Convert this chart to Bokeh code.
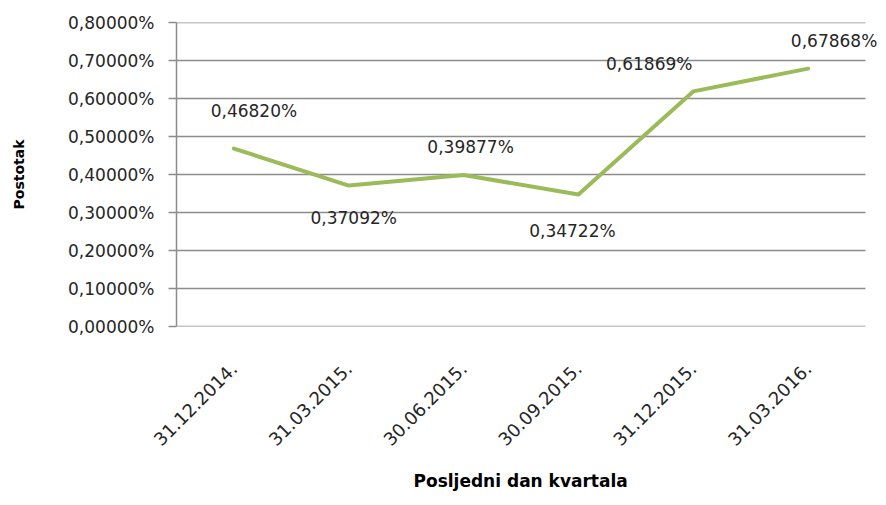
from bokeh.plotting import figure
from bokeh.models import Range1d, FixedTicker, CustomJSTickFormatter, ColumnDataSource, LabelSet, Title
from bokeh.core.properties import value
from bokeh.embed import file_html
from bokeh.resources import INLINE
import math

dates = ["31.12.2014.", "31.03.2015.", "30.06.2015.", "30.09.2015.", "31.12.2015.", "31.03.2016."]
rates = [0.46820, 0.37092, 0.39877, 0.34722, 0.61869, 0.67868]
labels = ["0,46820%", "0,37092%", "0,39877%", "0,34722%", "0,61869%", "0,67868%"]
y_ticks = [0.0, 0.1, 0.2, 0.3, 0.4, 0.5, 0.6, 0.7, 0.8]

# label placement (pixels), style only
label_dx = [20, 5, 7, -6, -44, 26]
label_dy = [38, -32, 28, -36, 27, 28]

FONT = "DejaVu Sans"
TXT = "#262626"
GRID = "#8c8c8c"

n = len(dates)
xs = list(range(n))
x_lo, x_hi = -0.5, n - 0.5          # category band edges (plot area)
extra = 21 / (689 / n)              # free room on the right for the last label

p = figure(width=886, height=505, x_range=Range1d(x_lo, x_hi + extra),
           y_range=Range1d(0, 0.8), output_backend="svg", toolbar_location=None,
           min_border_left=176, min_border_right=0, min_border_top=22, min_border_bottom=179)
p.outline_line_color = None
p.background_fill_color = "white"
p.border_fill_color = "white"
p.xgrid.grid_line_color = None
p.ygrid.grid_line_color = None

# horizontal gridlines and x axis line, limited to the category bands
p.segment(x0=[x_lo] * len(y_ticks), x1=[x_hi] * len(y_ticks), y0=y_ticks, y1=y_ticks,
          line_color=GRID, line_width=1.5)

p.yaxis.ticker = FixedTicker(ticks=y_ticks)
p.yaxis.formatter = CustomJSTickFormatter(code="return tick.toFixed(5).replace('.', ',') + '%';")
p.yaxis.minor_tick_line_color = None
p.yaxis.major_tick_in = 0
p.yaxis.major_tick_out = 8
p.yaxis.major_tick_line_color = GRID
p.yaxis.major_tick_line_width = 1.5
p.yaxis.axis_line_color = GRID
p.yaxis.axis_line_width = 1.5
p.yaxis.major_label_standoff = 14
p.yaxis.major_label_text_font = FONT
p.yaxis.major_label_text_font_size = "17px"
p.yaxis.major_label_text_color = TXT
p.yaxis.axis_label = "Postotak"
p.yaxis.axis_label_text_font = FONT
p.yaxis.axis_label_text_font_style = "bold"
p.yaxis.axis_label_text_font_size = "14px"
p.yaxis.axis_label_text_color = "#000000"
p.yaxis.axis_label_standoff = 38

p.xaxis.ticker = FixedTicker(ticks=xs)
p.xaxis.major_label_overrides = {i: d for i, d in zip(xs, dates)}
p.xaxis.major_tick_line_color = None
p.xaxis.minor_tick_line_color = None
p.xaxis.axis_line_color = None
p.xaxis.major_label_orientation = math.pi / 4
p.xaxis.major_label_standoff = 33
p.xaxis.major_label_text_font = FONT
p.xaxis.major_label_text_font_size = "18px"
p.xaxis.major_label_text_color = TXT

p.add_layout(Title(text="Posljedni dan kvartala", align="left", offset=237,
                   text_font=FONT, text_font_style="bold", text_font_size="17px",
                   text_color="#000000", standoff=28), "below")

src = ColumnDataSource(dict(x=xs, y=rates, lab=labels, dx=label_dx, dy=label_dy))
p.line("x", "y", source=src, line_color="#9BBB59", line_width=4, line_join="round", line_cap="round")
p.add_layout(LabelSet(x="x", y="y", text="lab", source=src, x_offset="dx", y_offset="dy",
                      text_font=value(FONT), text_font_size="17px", text_color=TXT,
                      text_align="center", text_baseline="middle"))

open("out.html", "w").write(file_html(p, INLINE))
